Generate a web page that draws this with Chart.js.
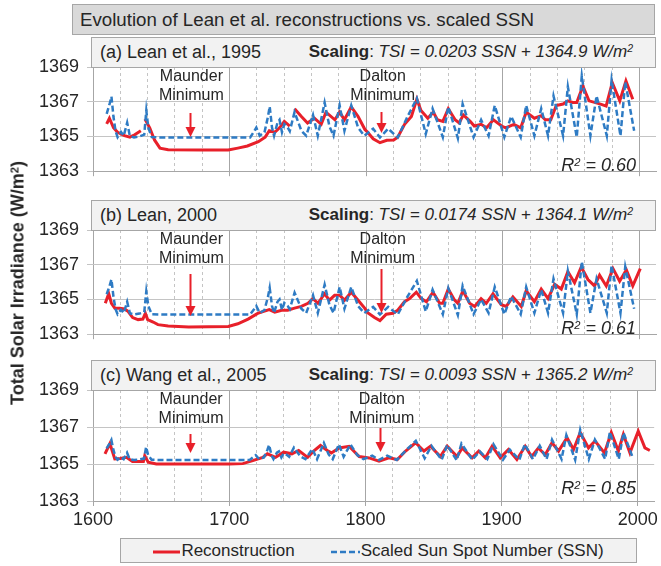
<!DOCTYPE html>
<html>
<head>
<meta charset="utf-8">
<script src="https://cdn.jsdelivr.net/npm/chart.js@4.4.1/dist/chart.umd.min.js"></script>
<style>
  body { margin: 0; background: #fff; font-family: "Liberation Sans", Arial, sans-serif; color: #262626; }
  #wrap { position: relative; width: 661px; height: 566px; overflow: hidden; }
  canvas { position: absolute; left: 0; }
  .box { position: absolute; box-sizing: border-box; border: 1px solid #a6a6a6; background: #f2f2f2; white-space: nowrap; }
  .title { background: #d9d9d9; font-size: 18.7px; line-height: 29px; padding-left: 7px; }
  .head { font-size: 18px; line-height: 28px; }
  .head .lbl { position: absolute; left: 8px; }
  .head .fit { position: absolute; right: 22px; font-size: 17px; }
  sup { font-size: 0.62em; vertical-align: 0; position: relative; top: -0.45em; }
  .r2 { position: absolute; font-size: 18px; font-style: italic; right: 25px; line-height: 22px; }
  .ytitle { position: absolute; font-weight: bold; font-size: 18px; white-space: nowrap;
            left: 18px; top: 283px; transform: translate(-50%, -50%) rotate(-90deg); }
  .legend { font-size: 17px; line-height: 23px; text-align: center; }
  .legend svg { vertical-align: middle; margin-right: 1px; }
</style>
</head>
<body>
<div id="wrap">
  <canvas id="c0" width="661" height="143" style="top:47px"></canvas>
  <canvas id="c1" width="661" height="143" style="top:210px"></canvas>
  <canvas id="c2" width="661" height="166" style="top:370px"></canvas>

  <div class="box title" style="left:72px; top:4px; width:583px; height:31px;">Evolution of Lean et al. reconstructions vs. scaled SSN</div>
  <div class="ytitle">Total Solar Irradiance (W/m<sup>2</sup>)</div>
  <div class="box legend" style="left:120px; top:538px; width:517px; height:25px;">
    <svg width="27" height="6"><line x1="0" y1="3" x2="27" y2="3" stroke="#e8202a" stroke-width="3"/></svg>Reconstruction<span style="display:inline-block;width:36px"></span><svg width="29" height="6"><line x1="0" y1="3" x2="29" y2="3" stroke="#2e7bc4" stroke-width="2.5" stroke-dasharray="6,3"/></svg>Scaled Sun Spot Number (SSN)
  </div>
</div>

<script>
// --- data ---
// sunspot number (back-converted from panel a), scaled per panel with the fit shown in each header
const ssnYears = [1610, 1612, 1613.5, 1615, 1616.5, 1618, 1620.5, 1622.5, 1625, 1627,
  1630, 1634, 1637.5, 1639, 1640.5, 1643, 1650, 1680, 1715, 1718,
  1719.5, 1722, 1725.5, 1728, 1729.3, 1731, 1732.5, 1735, 1736.5, 1738.3,
  1740, 1742.5, 1744, 1747.5, 1752.5, 1756, 1761, 1764.5, 1769.5, 1773,
  1776, 1780.5, 1784, 1789, 1794, 1798.5, 1805, 1810, 1816, 1823,
  1830, 1837, 1843.5, 1848.5, 1856, 1860, 1867, 1870.5, 1878.5, 1884,
  1889.5, 1894, 1901, 1906, 1913, 1917, 1923, 1928, 1933, 1937,
  1944, 1947.5, 1954, 1957.7, 1964, 1968.5, 1976, 1979.5, 1986, 1989.5, 1996];
const ssn = [69, 95, 118, 60, 20, 3, 18, 7, 44, 6,
  2, 5, 10, 78, 30, 3, 2, 2, 2, 20,
  30, 7, 17, 60, 90, 30, 7, 44, 52, 17,
  40, 30, 20, 74, 21, 7, 66, 7, 101, 34,
  7, 93, 21, 93, 30, 7, 27, 2, 27, 2,
  60, 113, 12, 84, 3, 89, 0, 97, 3, 52,
  7, 93, 3, 62, 3, 93, 7, 84, 7, 120,
  7, 146, 3, 177, 7, 120, 7, 165, 7, 160, 21];

// (a) Lean et al., 1995  (null = gap in the record)
const yearsA = [1610, 1612, 1615, 1618, 1623, 1627, 1630.5, 1635, 1636.5, 1638,
  1641.5, 1645, 1649, 1655, 1680, 1699, 1706, 1713, 1721, 1726,
  1729, 1733, 1736.5, 1740, 1744, 1745.5, 1747.5, 1752.5, 1757, 1762,
  1767, 1770.5, 1777, 1780.5, 1784, 1789, 1794, 1799, 1801, 1805,
  1810, 1815, 1820, 1823, 1828, 1833, 1837, 1840, 1845, 1849,
  1852, 1856, 1860, 1865, 1868, 1871, 1876, 1879, 1884, 1888,
  1893, 1899, 1902, 1908, 1913, 1917, 1923, 1928, 1931, 1935,
  1939, 1944, 1947.5, 1951, 1954, 1958.5, 1963, 1967, 1972, 1975.5,
  1980, 1985.5, 1990, 1995];
const tsiA = [1365.73, 1366.05, 1365.5, 1365.24, 1365.05, 1364.96, 1365.1, 1365.33, null, 1366.0,
  1365.5, 1364.8, 1364.33, 1364.24, 1364.22, 1364.22, 1364.33, 1364.45, 1364.7, 1364.96,
  1365.33, 1365.24, 1365.5, 1365.87, 1365.6, null, 1366.6, 1366.15, 1365.78, 1366.05,
  1365.7, 1366.4, 1365.96, 1366.4, 1365.96, 1366.7, 1366.15, 1365.4, 1365.24, 1364.87,
  1364.64, 1364.78, 1364.8, 1364.96, 1365.7, 1366.15, 1367.15, 1366.5, 1366.05, 1366.4,
  1365.96, 1365.87, 1366.6, 1365.96, 1365.78, 1366.24, 1365.87, 1365.6, 1365.7, 1365.5,
  1365.96, 1365.6, 1365.5, 1365.7, 1365.5, 1366.4, 1366.05, 1366.2, 1365.96, 1365.96,
  1366.78, 1366.87, 1367.05, 1366.96, 1366.96, 1367.9, 1367.05, 1366.96, 1366.85, 1366.75,
  1368.1, 1367.05, 1368.2, 1367.14];

// (b) Lean, 2000
const yearsB = [1609, 1611.5, 1613.5, 1616, 1619.5, 1623, 1625.5, 1629, 1633, 1636.5,
  1638.3, 1640, 1644, 1647.5, 1655, 1670, 1699, 1706, 1713.5, 1720.5,
  1725.5, 1729, 1733, 1738, 1742.5, 1747.5, 1752.5, 1757.3, 1761, 1764.6,
  1769.5, 1773, 1776.8, 1780.5, 1784, 1789, 1794, 1798.8, 1801, 1806,
  1810, 1814.6, 1819.5, 1823, 1828, 1831.7, 1836.6, 1840.2, 1844, 1848.8,
  1853.7, 1856, 1860, 1864.6, 1867, 1870.7, 1875.6, 1879.3, 1884, 1887.8,
  1892.7, 1898.8, 1902.4, 1907.3, 1913.4, 1917, 1923, 1928, 1933, 1937.8,
  1942.7, 1947.5, 1952.4, 1957.3, 1962.2, 1967, 1970.7, 1975.6, 1980.5, 1985.4,
  1990.3, 1995, 2000.5];
const tsiB = [1364.78, 1365.33, 1364.78, 1364.5, 1364.5, 1364.45, 1364.33, 1363.96, 1363.84, 1363.87,
  1364.2, 1363.84, 1363.7, 1363.55, 1363.47, 1363.42, 1363.45, 1363.6, 1363.87, 1364.2,
  1364.33, 1364.42, 1364.27, 1364.38, 1364.38, 1364.5, 1364.6, 1364.78, 1365.05, 1364.78,
  1365.33, 1364.96, 1365.24, 1365.24, 1364.96, 1365.42, 1364.96, 1364.5, 1364.24, 1363.96,
  1363.78, 1364.15, 1364.2, 1364.38, 1364.87, 1365.05, 1365.42, 1365.05, 1364.87, 1365.42,
  1364.78, 1364.78, 1365.6, 1364.96, 1364.78, 1365.5, 1364.78, 1364.6, 1365.05, 1364.78,
  1365.33, 1364.7, 1364.6, 1365.15, 1364.6, 1365.5, 1364.87, 1365.6, 1365.05, 1365.87,
  1365.6, 1366.6, 1365.96, 1366.87, 1366.15, 1365.78, 1366.4, 1365.78, 1366.78, 1366.05,
  1366.7, 1365.78, 1366.78];

// (c) Wang et al., 2005
const yearsC = [1608.8, 1612.4, 1616, 1620, 1624.5, 1629, 1637, 1638, 1640.5, 1646.5,
  1700, 1710, 1717.3, 1724.6, 1728, 1734, 1740, 1746, 1751, 1757.6,
  1762.4, 1767, 1772, 1775, 1780.7, 1788, 1795.4, 1802.7, 1810, 1817.3,
  1823.4, 1829.5, 1836.8, 1843, 1847.8, 1855, 1860, 1867.3, 1871, 1878.3,
  1883.2, 1888, 1893, 1899, 1905, 1911.2, 1917.3, 1922, 1927, 1932,
  1937, 1941.8, 1948, 1952.8, 1957.7, 1963.8, 1968.6, 1975.5, 1980.5, 1985.7,
  1989.4, 1994.2, 2000.3, 2005.2, 2008.8];
const tsiC = [1365.55, 1366.1, 1365.27, 1365.3, 1365.36, 1365.13, 1365.13, 1365.45, 1365.1, 1365.0,
  1365.0, 1365.02, 1365.18, 1365.36, 1365.55, 1365.36, 1365.64, 1365.55, 1365.73, 1365.36,
  1365.73, 1366.0, 1365.73, 1365.6, 1365.87, 1365.96, 1365.4, 1365.33, 1365.15, 1365.33,
  1365.24, 1365.7, 1366.15, 1365.7, 1365.96, 1365.4, 1365.96, 1365.4, 1365.87, 1365.33,
  1365.7, 1365.33, 1365.96, 1365.33, 1365.78, 1365.24, 1365.96, 1365.4, 1365.87, 1365.5,
  1366.15, 1365.7, 1366.42, 1365.78, 1366.7, 1365.87, 1366.24, 1365.6, 1366.7, 1365.7,
  1366.6, 1365.6, 1366.78, 1365.87, 1365.73];

const labels = ['(a) Lean et al., 1995', '(b) Lean, 2000', '(c) Wang et al., 2005'];
const slopes = [0.0203, 0.0174, 0.0093];
const intercepts = [1364.9, 1364.1, 1365.2];
const r2 = ['0.60', '0.61', '0.85'];
const xTicks = [1600, 1700, 1800, 1900, 2000];
const yTicks = [1363, 1365, 1367, 1369];

const reconYears = [yearsA, yearsB, yearsC];
const reconVals = [tsiA, tsiB, tsiC];

const RED = '#e8202a';
const BLUE = '#2e7bc4';

Chart.defaults.font.family = '"Liberation Sans", Arial, sans-serif';
Chart.defaults.font.size = 18;
Chart.defaults.color = '#262626';

// Maunder / Dalton labels with red arrows
const minimaPlugin = {
  id: 'minima',
  afterDatasetsDraw(chart, args, opts) {
    const { ctx, chartArea, scales } = chart;
    const top = chartArea.top;
    ctx.save();
    ctx.font = '16px "Liberation Sans", Arial, sans-serif';
    ctx.textAlign = 'center';
    ctx.textBaseline = 'middle';
    opts.marks.forEach(m => {
      const tx = scales.x.getPixelForValue(m.textYear);
      const ax = Math.round(scales.x.getPixelForValue(m.arrowYear)) + 0.5;
      ctx.fillStyle = '#262626';
      ctx.fillText(m.name, tx, top + 10);
      ctx.fillText('Minimum', tx, top + 29);
      const y0 = top + m.from, y1 = top + m.to;
      ctx.strokeStyle = RED;
      ctx.fillStyle = RED;
      ctx.lineWidth = 2;
      ctx.beginPath();
      ctx.moveTo(ax, y0);
      ctx.lineTo(ax, y1 - 8);
      ctx.stroke();
      ctx.beginPath();
      ctx.moveTo(ax - 5, y1 - 10);
      ctx.lineTo(ax + 5, y1 - 10);
      ctx.lineTo(ax, y1);
      ctx.closePath();
      ctx.fill();
    });
    ctx.restore();
  }
};

const arrowSpans = [
  [[46, 70], [45, 66]],
  [[44, 86], [39, 83]],
  [[44, 63], [38, 62]]
];
const panelTops = [67, 230, 390];

function buildPanel(i) {
  const last = i === 2;
  const scaled = ssnYears.map((yr, k) => ({ x: yr, y: ssn[k] == null ? null : +(slopes[i] * ssn[k] + intercepts[i]).toFixed(3) }));
  const recon = reconYears[i].map((yr, k) => ({ x: yr, y: reconVals[i][k] }));

  new Chart(document.getElementById('c' + i), {
    type: 'line',
    data: {
      datasets: [
        { label: 'Reconstruction', data: recon, borderColor: RED, borderWidth: 3, pointRadius: 0, spanGaps: false, order: 1 },
        { label: 'Scaled Sun Spot Number (SSN)', data: scaled, borderColor: BLUE, borderWidth: 2.5, borderDash: [6, 3], pointRadius: 0, order: 0 }
      ]
    },
    options: {
      responsive: false,
      animation: false,
      events: [],
      layout: { padding: { top: 20, right: 5, left: 0, bottom: 0 } },
      plugins: {
        legend: { display: false },
        tooltip: { enabled: false },
        minima: {
          marks: [
            { name: 'Maunder', textYear: 1672, arrowYear: 1671, from: arrowSpans[i][0][0], to: arrowSpans[i][0][1] },
            { name: 'Dalton', textYear: 1812, arrowYear: 1810.5, from: arrowSpans[i][1][0], to: arrowSpans[i][1][1] }
          ]
        }
      },
      scales: {
        x: {
          type: 'linear', min: 1600, max: 2012,
          ticks: {
            stepSize: 20, includeBounds: false, autoSkip: false, maxRotation: 0, padding: 3,
            color: '#262626',
            callback: v => (last && xTicks.includes(v)) ? String(v) : ''
          },
          grid: {
            color: c => (c.tick && c.tick.value % 100 === 0) ? '#a6a6a6' : '#c4c4c4',
            tickColor: c => (c.tick && c.tick.value % 100 === 0) ? '#a6a6a6' : 'rgba(0,0,0,0)',
            tickLength: 5, lineWidth: 1
          },
          border: {
            display: true, color: '#a6a6a6',
            dash: c => (c.tick && c.tick.value % 100 !== 0) ? [3, 3] : []
          },
          afterFit: s => { s.height = last ? 35 : 12; }
        },
        y: {
          min: 1363, max: 1369,
          afterBuildTicks: s => { s.ticks = yTicks.map(v => ({ value: v })); },
          ticks: { padding: 8, color: '#262626', callback: v => String(v) },
          grid: { color: '#c4c4c4', tickLength: 6, lineWidth: 1 },
          border: { display: false },
          afterFit: s => { s.width = 93; }
        }
      }
    },
    plugins: [minimaPlugin]
  });

  // header box and R² label
  const wrap = document.getElementById('wrap');
  const head = document.createElement('div');
  head.className = 'box head';
  head.style.cssText = `left:91px; top:${panelTops[i] - 30}px; width:565px; height:31px;`;
  head.innerHTML = `<span class="lbl">${labels[i]}</span>` +
    `<span class="fit"><b>Scaling</b>: <i>TSI = ${slopes[i].toFixed(4)} SSN + ${intercepts[i].toFixed(1)} W/m<sup>2</sup></i></span>`;
  wrap.appendChild(head);

  const r = document.createElement('div');
  r.className = 'r2';
  r.style.top = (panelTops[i] + 111 - 24) + 'px';
  r.innerHTML = `R<sup>2</sup> = ${r2[i]}`;
  wrap.appendChild(r);
}

[0, 1, 2].forEach(buildPanel);
</script>
</body>
</html>
